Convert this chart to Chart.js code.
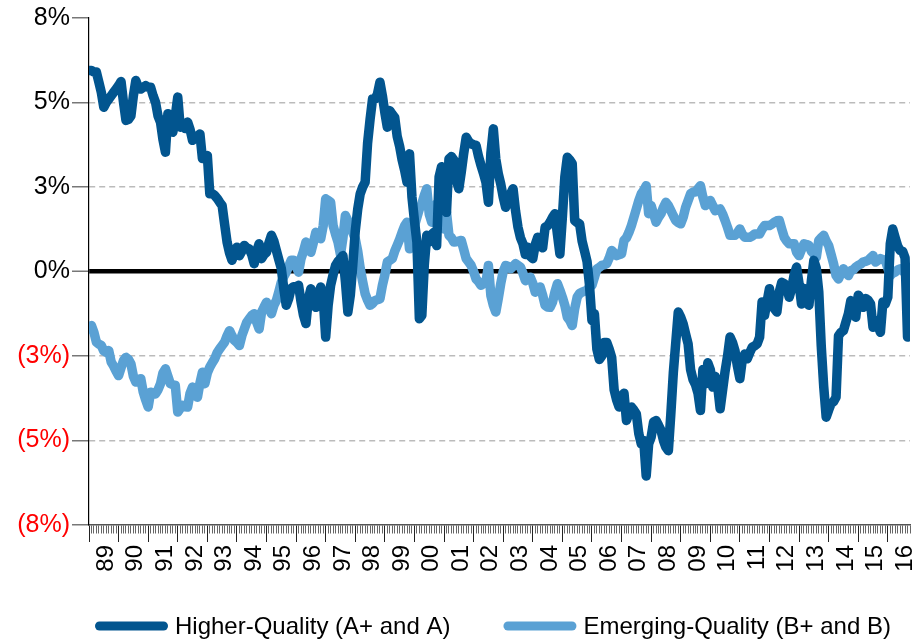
<!DOCTYPE html>
<html>
<head>
<meta charset="utf-8">
<script src="https://cdn.jsdelivr.net/npm/chart.js@4.4.0/dist/chart.umd.min.js"></script>
<style>
  html, body { margin: 0; padding: 0; background: #fff; }
</style>
</head>
<body>
<canvas id="qualityChart" width="918" height="643"></canvas>
<script>
const yearLabels = ['89', '90', '91', '92', '93', '94', '95', '96', '97', '98', '99', '00', '01', '02',
  '03', '04', '05', '06', '07', '08', '09', '10', '11', '12', '13', '14', '15', '16'];

// monthly relative performance (%), Jan 1989 - Sep 2016
const higherQuality = [
  5.95, 5.95, 5.9, 5.9, 5.6, 5.3, 4.86, 5.0, 5.1, 5.2, 5.3, 5.4,          // 1989
  5.5, 5.62, 5.0, 4.47, 4.5, 4.6, 5.2, 5.65, 5.45, 5.4, 5.45, 5.5,        // 1990
  5.45, 5.45, 5.2, 5.0, 4.6, 4.42, 3.9, 3.53, 4.67, 4.3, 4.12, 4.6,       // 1991
  5.16, 4.27, 4.3, 4.23, 4.42, 4.2, 3.88, 3.95, 4.0, 4.07, 3.34, 3.4,     // 1992
  3.43, 2.3, 2.3, 2.25, 2.16, 2.05, 1.95, 1.4, 0.87, 0.55, 0.33, 0.55,    // 1993
  0.72, 0.47, 0.6, 0.77, 0.7, 0.67, 0.5, 0.23, 0.6, 0.82, 0.38, 0.5,      // 1994
  0.57, 0.85, 1.07, 0.9, 0.62, 0.35, 0.09, -0.5, -1.0, -0.8, -0.5, -0.45, // 1995
  -0.45, -0.41, -0.9, -1.3, -1.54, -0.8, -0.51, -0.8, -1.06, -0.7, -0.46, -0.8, // 1996
  -1.94, -1.0, -0.41, -0.1, 0.18, 0.3, 0.38, 0.47, -0.3, -1.2, -0.7, 0.2, // 1997
  1.2, 1.85, 2.3, 2.5, 2.64, 3.8, 4.5, 5.1, 5.1, 5.25, 5.6, 5.2,          // 1998
  4.7, 4.27, 4.76, 4.65, 4.56, 4.0, 3.7, 3.3, 3.0, 2.64, 3.48, 2.2,       // 1999
  1.5, 0.87, -1.4, -1.3, 0.2, 1.07, 0.87, 1.1, 1.16, 0.77, 2.8, 3.1,      // 2000
  2.8, 1.75, 3.33, 3.4, 3.3, 2.7, 2.45, 2.94, 3.5, 3.97, 3.85, 3.78,      // 2001
  3.75, 3.73, 3.4, 3.14, 2.9, 2.64, 2.05, 3.5, 4.22, 3.33, 2.9, 2.59,     // 2002
  2.2, 1.9, 2.1, 2.3, 2.45, 1.8, 1.31, 1.0, 0.82, 0.5, 0.72, 0.45,        // 2003
  0.38, 0.8, 1.01, 0.75, 0.7, 1.31, 1.35, 1.46, 1.6, 1.71, 1.1, 0.52,     // 2004
  1.61, 2.8, 3.38, 3.3, 3.19, 1.51, 1.45, 1.41, 0.9, 0.6, 0.3, -0.4,      // 2005
  -1.45, -1.25, -2.3, -2.6, -2.5, -2.1, -2.1, -2.3, -2.54, -3.5, -3.8, -4.01, // 2006
  -3.7, -3.6, -4.41, -4.2, -4.01, -4.1, -4.21, -4.8, -5.1, -5.0, -6.05, -5.1, // 2007
  -4.9, -4.45, -4.41, -4.55, -4.7, -5.0, -5.2, -5.3, -4.21, -3.0, -2.1, -1.2, // 2008
  -1.35, -1.55, -1.85, -2.14, -2.9, -3.2, -3.35, -3.6, -4.11, -2.9, -3.32, -2.7, // 2009
  -2.9, -3.42, -3.1, -3.4, -4.06, -3.5, -2.95, -2.5, -1.94, -2.1, -2.34, -2.8, // 2010
  -3.17, -2.6, -2.44, -2.58, -2.4, -2.24, -2.2, -2.14, -1.94, -0.9, -1.3, -0.9, // 2011
  -0.51, -1.0, -1.1, -1.2, -0.6, -0.32, -0.36, -0.5, -0.76, -0.5, -0.1, 0.13, // 2012
  -0.36, -0.96, -0.5, -0.8, -1.0, -0.27, 0.33, 0.1, -0.6, -2.2, -3.4, -4.31, // 2013
  -4.1, -3.91, -3.85, -3.72, -1.9, -1.8, -1.75, -1.5, -1.25, -0.86, -1.1, -1.35, // 2014
  -0.7, -0.8, -1.06, -0.8, -0.85, -0.96, -1.65, -1.45, -1.6, -1.8, -0.9, -0.96, // 2015
  -0.76, 0.82, 1.26, 1.0, 0.75, 0.62, 0.6, 0.4, -1.94                    // 2016
];

const emergingQuality = [
  -1.7, -1.6, -1.8, -2.09, -2.15, -2.19, -2.35, -2.39, -2.34, -2.68, -2.8, -2.95, // 1989
  -3.08, -2.85, -2.63, -2.54, -2.6, -2.73, -3.1, -3.27, -3.2, -3.17, -3.57, -3.8, // 1990
  -4.01, -3.57, -3.6, -3.62, -3.5, -3.32, -3.0, -2.88, -3.1, -3.32, -3.35, -3.37, // 1991
  -4.16, -4.05, -3.96, -4.0, -4.01, -3.6, -3.42, -3.6, -3.72, -3.3, -2.98, -3.32, // 1992
  -3.0, -2.83, -2.7, -2.58, -2.4, -2.29, -2.19, -2.09, -1.9, -1.75, -1.9, -2.04, // 1993
  -2.1, -2.19, -1.9, -1.7, -1.5, -1.4, -1.3, -1.25, -1.5, -1.7, -1.2, -1.05, // 1994
  -0.91, -1.1, -1.25, -1.0, -0.86, -0.6, -0.32, -0.15, -0.02, 0.15, 0.33, 0.33, // 1995
  0.15, -0.02, 0.38, 0.6, 0.87, 0.7, 0.57, 0.85, 1.16, 1.05, 0.97, 1.36,  // 1996
  2.15, 2.1, 2.05, 1.36, 1.1, 0.87, 0.5, 1.0, 1.66, 1.5, 1.36, 1.15,      // 1997
  0.97, 0.6, 0.1, -0.3, -0.66, -0.85, -1.0, -0.95, -0.86, -0.83, -0.81, -0.41, // 1998
  -0.1, 0.28, 0.33, 0.38, 0.6, 0.77, 0.95, 1.16, 1.35, 1.46, 0.67, 1.1,   // 1999
  1.35, 1.6, 1.85, 2.0, 2.25, 2.45, 1.7, 1.46, 1.7, 2.0, 1.9, 1.66,       // 2000
  1.26, 1.75, 1.07, 1.0, 0.87, 0.88, 0.9, 0.92, 0.65, 0.38, 0.28, 0.18,   // 2001
  0.0, -0.22, -0.3, -0.41, -0.36, -0.32, 0.18, -0.71, -1.0, -1.2, -0.8, -0.36, // 2002
  0.0, 0.18, 0.15, 0.08, 0.15, 0.23, 0.18, 0.13, -0.05, -0.27, -0.2, -0.17, // 2003
  -0.35, -0.61, -0.55, -0.46, -0.7, -1.0, -1.05, -1.06, -0.91, -0.6, -0.36, -0.55, // 2004
  -0.76, -1.0, -1.35, -1.45, -1.6, -1.1, -0.76, -0.65, -0.61, -0.58, -0.56, -0.45, // 2005
  -0.41, -0.17, 0.08, 0.12, 0.18, 0.2, 0.23, 0.4, 0.62, 0.55, 0.47, 0.5,  // 2006
  0.52, 0.92, 1.0, 1.16, 1.36, 1.6, 1.85, 2.1, 2.3, 2.4, 2.54, 1.71,      // 2007
  1.95, 1.7, 1.46, 1.6, 1.71, 1.9, 2.05, 1.95, 1.8, 1.65, 1.51, 1.45,     // 2008
  1.41, 1.6, 1.9, 2.1, 2.3, 2.35, 2.35, 2.45, 2.54, 2.2, 1.95, 2.05,      // 2009
  2.1, 1.95, 1.8, 1.82, 1.85, 1.7, 1.51, 1.3, 1.07, 1.07, 1.07, 1.15,     // 2010
  1.26, 1.1, 1.01, 1.01, 1.01, 1.05, 1.11, 1.11, 1.11, 1.25, 1.36, 1.36,  // 2011
  1.36, 1.4, 1.46, 1.5, 1.51, 1.25, 1.01, 0.9, 0.82, 0.82, 0.82, 0.57,    // 2012
  0.47, 0.65, 0.82, 0.8, 0.77, 0.6, 0.52, 0.42, 0.92, 1.0, 1.07, 0.9,     // 2013
  0.77, 0.5, 0.23, -0.12, -0.22, -0.05, 0.08, -0.02, -0.12, 0.03, 0.05, 0.13, // 2014
  0.18, 0.22, 0.28, 0.3, 0.33, 0.4, 0.47, 0.28, 0.33, 0.38, 0.35, 0.33,   // 2015
  0.1, -0.12, -0.05, -0.02, 0.05, 0.08, 0.03, -0.05, -0.15               // 2016
];

const seriesNames = ['Higher-Quality (A+ and A)', 'Emerging-Quality (B+ and B)'];
const seriesColors = ['#02558f', '#5aa1d4'];
const yTicks = [-7.5, -5, -2.5, 0, 2.5, 5, 7.5];
const monthCount = 333;

const fontFamily = "'Liberation Sans', Arial, sans-serif";

function toPoints(values) {
  return values.map((v, i) => ({ x: i, y: v }));
}

function yLabel(value) {
  const pct = Math.round(Math.abs(value)) + '%';
  return value < 0 ? '(' + pct + ')' : pct;
}

// year label sits on the July tick so it reads centred under its year
function xLabel(value) {
  if (value % 12 !== 7) return '';
  return yearLabels[(value - 7) / 12] || '';
}

// single-row legend under the axis labels, lined up with the plot's left edge
const bottomLegend = {
  id: 'bottomLegend',
  afterDraw(chart) {
    const { ctx, chartArea } = chart;
    const y = chartArea.bottom + 101;
    let x = chartArea.left + 6;
    ctx.save();
    ctx.font = '24px ' + fontFamily;
    ctx.textBaseline = 'middle';
    ctx.textAlign = 'left';
    chart.data.datasets.forEach((ds) => {
      ctx.strokeStyle = ds.borderColor;
      ctx.lineWidth = 9;
      ctx.lineCap = 'round';
      ctx.beginPath();
      ctx.moveTo(x + 4.5, y);
      ctx.lineTo(x + 73 - 4.5, y);
      ctx.stroke();
      ctx.fillStyle = '#000';
      ctx.fillText(ds.label, x + 80, y + 1);
      x += 80 + ctx.measureText(ds.label).width + 53;
    });
    ctx.restore();
  }
};

const ctx = document.getElementById('qualityChart').getContext('2d');

new Chart(ctx, {
  type: 'line',
  data: {
    datasets: [
      {
        label: seriesNames[0],
        data: toPoints(higherQuality),
        borderColor: seriesColors[0],
        backgroundColor: seriesColors[0],
        borderWidth: 9.5,
        borderJoinStyle: 'round',
        borderCapStyle: 'round',
        pointRadius: 0,
        tension: 0,
        fill: false
      },
      {
        label: seriesNames[1],
        data: toPoints(emergingQuality),
        borderColor: seriesColors[1],
        backgroundColor: seriesColors[1],
        borderWidth: 9.5,
        borderJoinStyle: 'round',
        borderCapStyle: 'round',
        pointRadius: 0,
        tension: 0,
        fill: false
      }
    ]
  },
  options: {
    responsive: false,
    animation: false,
    devicePixelRatio: 1,
    layout: {
      padding: { top: 18, right: 8, bottom: 66, left: 0 }
    },
    scales: {
      x: {
        type: 'linear',
        min: 0,
        max: monthCount,
        afterBuildTicks: (scale) => {
          const ticks = [];
          for (let m = 0; m <= monthCount; m++) ticks.push({ value: m });
          scale.ticks = ticks;
        },
        afterFit: (scale) => {
          scale.height = 52;
          scale.paddingLeft = 0;
          scale.paddingRight = 0;
        },
        border: { color: '#555', width: 1.5 },
        grid: {
          drawOnChartArea: false,
          tickLength: 17,
          tickWidth: 1,
          tickColor: (c) => (c.tick && c.tick.value % 12 === 0) ? '#222' : '#666',
          tickBorderDash: (c) => (c.tick && c.tick.value % 12 === 0) ? [] : [8, 40]
        },
        ticks: {
          autoSkip: false,
          maxRotation: 90,
          minRotation: 90,
          padding: 3,
          color: '#000',
          font: { family: fontFamily, size: 24 },
          callback: (value) => xLabel(value)
        }
      },
      y: {
        min: -7.5,
        max: 7.5,
        afterBuildTicks: (scale) => {
          scale.ticks = yTicks.map(v => ({ value: v }));
        },
        afterFit: (scale) => {
          scale.width = 89;
          scale.paddingTop = 0;
          scale.paddingBottom = 0;
        },
        border: {
          color: '#000',
          width: 1.2,
          dash: (c) => (c.tick && c.tick.value !== 0) ? [6, 4] : []
        },
        grid: {
          color: (c) => {
            if (!c.tick) return '#bbb';
            if (c.tick.value === 0) return '#000';
            if (Math.abs(c.tick.value) === 7.5) return 'rgba(0,0,0,0)';
            return '#bbb';
          },
          lineWidth: (c) => (c.tick && c.tick.value === 0) ? 4.5 : 1.5,
          tickLength: 17,
          tickWidth: 1.5,
          tickColor: '#777',
          tickBorderDash: []
        },
        ticks: {
          padding: 2,
          font: { family: fontFamily, size: 25 },
          color: (c) => (c.tick && c.tick.value < 0) ? '#ff0000' : '#000',
          callback: (value) => yLabel(value)
        }
      }
    },
    plugins: {
      tooltip: { enabled: false },
      legend: { display: false }
    }
  },
  plugins: [bottomLegend]
});
</script>
</body>
</html>
